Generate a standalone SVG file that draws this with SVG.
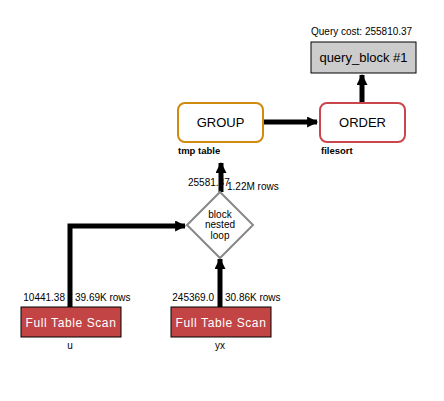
<svg xmlns="http://www.w3.org/2000/svg" width="444" height="401" viewBox="0 0 444 401">
<style>
text{font-family:"Liberation Sans",Arial,sans-serif;fill:#000}
.s{font-size:10px}
.n{font-size:13px}
.b{font-size:9.5px;font-weight:bold}
.w{font-size:12px;fill:#fff;letter-spacing:0.6px}
.e{fill:none;stroke:#000;stroke-width:5}
</style>
<defs>
<marker id="ah" viewBox="0 0 10 10" refX="9" refY="5" markerWidth="2.6" markerHeight="2.2" orient="auto" markerUnits="strokeWidth">
<path d="M0,0L10,5L0,10z" fill="#000"/>
</marker>
</defs>
<rect width="444" height="401" fill="#fff"/>
<g id="connectors">
<path class="e" d="M362,103V75" marker-end="url(#ah)"/>
<path class="e" d="M263,122H317" marker-end="url(#ah)"/>
<path class="e" d="M221,192V163" marker-end="url(#ah)"/>
<path class="e" d="M70,307V226H185" marker-end="url(#ah)"/>
<path class="e" d="M220,307V259" marker-end="url(#ah)"/>
<text class="s" x="188" y="186">25581.37</text>
<text class="s" x="227" y="190">1.22M rows</text>
<text class="s" x="65" y="301" text-anchor="end">10441.38</text>
<text class="s" x="75" y="301">39.69K rows</text>
<text class="s" x="214" y="301" text-anchor="end">245369.0</text>
<text class="s" x="225" y="301">30.86K rows</text>
</g>
<g id="query_block">
<text class="s" x="311" y="35">Query cost: 255810.37</text>
<rect x="311" y="42" width="105" height="31" fill="#ccc" stroke="#000" stroke-width="1"/>
<text class="n" x="363.5" y="62" text-anchor="middle">query_block #1</text>
</g>
<g id="order">
<rect x="320" y="103" width="85" height="39" rx="7" fill="#fff" stroke="#c9474c" stroke-width="2"/>
<text class="n" x="362.5" y="127" text-anchor="middle">ORDER</text>
<text class="b" x="321" y="154">filesort</text>
</g>
<g id="group">
<rect x="178" y="103" width="85" height="39" rx="7" fill="#fff" stroke="#d08a0e" stroke-width="2"/>
<text class="n" x="220.5" y="127" text-anchor="middle">GROUP</text>
<text class="b" x="178" y="154">tmp table</text>
</g>
<g id="nested_loop">
<path d="M220,192L253,225L220,258L187,225z" fill="#fff" stroke="#888" stroke-width="2"/>
<text class="s" x="220" y="218" text-anchor="middle">block</text>
<text class="s" x="220" y="228" text-anchor="middle">nested</text>
<text class="s" x="220" y="239" text-anchor="middle">loop</text>
</g>
<g id="scan_u">
<rect x="21" y="307" width="100" height="30" fill="#c24444" stroke="#000" stroke-width="1"/>
<text class="w" x="71" y="327" text-anchor="middle">Full Table Scan</text>
<text class="s" x="70" y="349" text-anchor="middle">u</text>
</g>
<g id="scan_yx">
<rect x="171" y="307" width="100" height="30" fill="#c24444" stroke="#000" stroke-width="1"/>
<text class="w" x="221" y="327" text-anchor="middle">Full Table Scan</text>
<text class="s" x="220" y="349" text-anchor="middle">yx</text>
</g>
</svg>
